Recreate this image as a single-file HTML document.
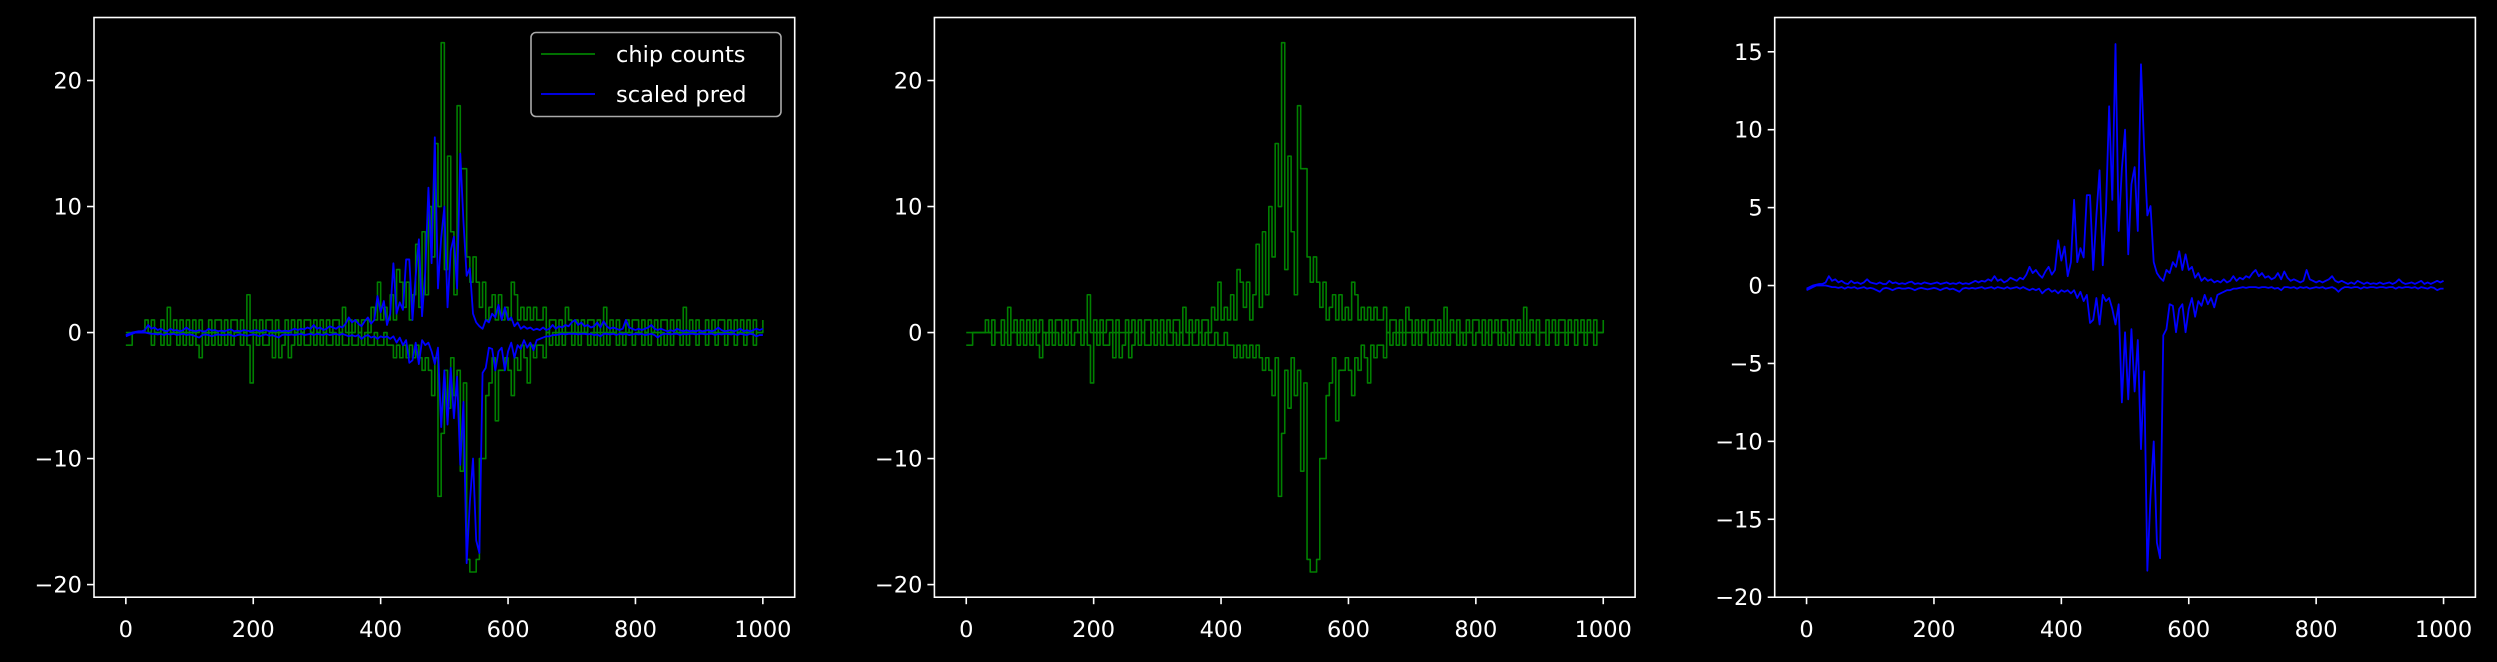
<!DOCTYPE html>
<html><head><meta charset="utf-8"><style>
html,body{margin:0;padding:0;background:#000;}
svg{display:block;font-family:"DejaVu Sans","Liberation Sans",sans-serif;}
</style></head><body>
<svg id="fig" width="2497" height="662" viewBox="0 0 2497 662" xmlns="http://www.w3.org/2000/svg">
<rect x="0" y="0" width="2497" height="662" fill="#000"/>
</svg>
<script>
// x positions (sample index) are 0,5,...,1000
const xStep = 5;
const blueUpper = [-0.2,-0.1,0,0.05,0.1,0.1,0.2,0.6,0.3,0.4,0.2,
0.3,0.15,0.1,0.3,0.15,0.2,0.1,0.2,0.4,0.2,
0.15,0.1,0.2,0.1,0.1,0.3,0.15,0.2,0.1,0.15,
0.1,0.2,0.25,0.1,0.15,0.1,0.2,0.15,0.1,0.15,
0.2,0.1,0.15,0.2,0.1,0.15,0.1,0.2,0.1,0.15,
0.1,0.2,0.3,0.2,0.3,0.25,0.4,0.3,0.6,0.3,
0.4,0.2,0.3,0.5,0.4,0.3,0.5,0.4,0.7,1.2,
0.8,1.0,0.7,0.5,0.9,1.2,0.7,1.0,2.9,1.6,
2.5,0.6,1.5,5.5,1.5,2.4,1.8,5.8,5.8,1.0,
4.5,7.4,1.3,4.8,11.5,5.5,15.5,3.5,7.5,10.0,
2.0,6.5,7.6,3.5,14.2,8.8,4.5,5.1,1.5,0.8,
0.5,0.3,1.0,0.8,1.5,1.2,2.2,1.0,2.0,1.0,
1.2,0.5,0.8,0.3,0.5,0.3,0.4,0.2,0.3,0.2,
0.4,0.2,0.3,0.6,0.3,0.5,0.4,0.6,0.5,0.8,
1.0,0.6,0.8,0.5,0.6,0.4,0.5,0.8,0.4,0.9,
0.5,0.3,0.4,0.3,0.2,0.3,1.0,0.4,0.3,0.2,
0.3,0.2,0.3,0.4,0.6,0.3,0.2,0.3,0.2,0.1,
0.2,0.1,0.3,0.2,0.1,0.2,0.1,0.15,0.1,0.2,
0.1,0.15,0.2,0.1,0.2,0.4,0.2,0.1,0.15,0.2,
0.1,0.2,0.3,0.1,0.2,0.1,0.2,0.3,0.2,0.3];
const blueLower = [-0.3,-0.2,-0.1,0,0,0,0,-0.05,-0.1,-0.1,-0.15,
-0.1,-0.2,-0.1,-0.15,-0.1,-0.2,-0.15,-0.1,-0.2,-0.15,
-0.2,-0.3,-0.4,-0.2,-0.15,-0.2,-0.3,-0.2,-0.15,-0.2,
-0.2,-0.15,-0.2,-0.3,-0.2,-0.15,-0.2,-0.25,-0.2,-0.15,
-0.2,-0.3,-0.2,-0.15,-0.25,-0.2,-0.3,-0.4,-0.2,-0.15,
-0.2,-0.15,-0.2,-0.15,-0.1,-0.2,-0.15,-0.1,-0.2,-0.1,
-0.15,-0.2,-0.1,-0.2,-0.15,-0.1,-0.2,-0.1,-0.2,-0.3,
-0.2,-0.3,-0.2,-0.5,-0.3,-0.2,-0.4,-0.3,-0.5,-0.3,
-0.4,-0.3,-0.5,-0.3,-0.8,-0.4,-1.0,-0.6,-2.4,-2.2,
-0.8,-2.5,-0.6,-1.0,-0.8,-1.5,-2.5,-1.2,-7.5,-3.0,
-7.3,-2.8,-6.8,-3.5,-10.5,-5.5,-18.3,-13.5,-10.0,-16.5,
-17.5,-3.2,-2.8,-1.2,-1.3,-3.0,-1.5,-1.2,-3.0,-1.5,
-0.8,-2.0,-1.0,-1.3,-0.6,-1.2,-0.8,-1.4,-0.6,-0.5,
-0.4,-0.3,-0.3,-0.2,-0.2,-0.15,-0.1,-0.15,-0.1,-0.1,
-0.1,-0.15,-0.1,-0.1,-0.15,-0.1,-0.2,-0.15,-0.3,-0.1,
-0.1,-0.15,-0.1,-0.2,-0.1,-0.15,-0.1,-0.2,-0.15,-0.1,
-0.15,-0.1,-0.2,-0.15,-0.1,-0.2,-0.4,-0.2,-0.1,-0.1,
-0.15,-0.1,-0.1,-0.2,-0.1,-0.15,-0.1,-0.1,-0.15,-0.1,
-0.1,-0.15,-0.1,-0.1,-0.2,-0.1,-0.15,-0.1,-0.1,-0.15,
-0.1,-0.2,-0.1,-0.15,-0.2,-0.1,-0.15,-0.3,-0.2,-0.2];
const greenUpper = [0,0,0,0,0,0,1,0,1,0,0,
1,0,2,0,1,0,1,0,1,0,
1,0,1,0,0,1,0,1,1,0,
1,0,1,1,0,1,0,3,0,1,
0,1,0,1,1,0,1,0,0,1,
0,1,0,1,0,1,1,0,1,0,
1,0,1,0,1,1,0,2,0,1,
0,1,0,1,1,0,2,1,4,1,
2,1,3,1,5,4,2,4,1,3,
7,2,8,3,10,6,15,10,23,5,
14,8,3,18,13,13,6,4,6,4,
2,4,1,2,3,1,3,1,2,1,
4,3,1,2,1,2,1,2,1,1,
2,0,1,1,0,1,0,2,1,0,
1,0,1,0,1,1,0,1,0,2,
0,1,0,1,0,0,1,0,1,1,
0,1,0,1,0,1,0,1,1,0,
1,0,1,0,2,0,1,0,1,0,
0,1,0,1,0,1,1,0,1,0,
1,0,1,0,1,0,1,0,0,1];
const greenLower = [-1,-1,0,0,0,0,0,0,-1,0,0,
-1,0,-1,0,0,-1,0,-1,0,-1,
0,-1,-2,0,-1,0,-1,0,-1,0,
-1,0,-1,0,0,-1,0,-1,-4,0,
-1,0,-1,-1,0,-2,0,-2,-1,0,
-2,-1,0,-1,0,-1,-1,0,-1,0,
-1,0,-1,-1,0,-1,0,-1,-1,0,
-1,-1,0,-1,0,-1,-1,0,-1,-1,
0,-1,-1,-2,-1,-2,-1,-2,-1,-2,
-1,-2,-3,-2,-3,-5,-2,-13,-8,-3,
-6,-2,-5,-3,-11,-4,-18,-19,-19,-18,
-10,-10,-5,-4,-2,-7,-3,-3,-2,-3,
-5,-2,-3,-1,-2,-4,-1,-2,-1,-1,
-2,0,-1,0,-1,0,-1,0,0,-1,
0,-1,0,0,-1,0,-1,0,-1,0,
-1,0,0,-1,0,-1,0,0,-1,0,
0,-1,0,-1,0,0,-1,0,-1,0,
-1,0,0,-1,0,-1,0,0,-1,0,
0,-1,0,0,-1,0,0,-1,0,0,
-1,0,0,-1,0,0,-1,0,0,0];
const xTicks = [0,200,400,600,800,1000];
const yTicksA = [20,10,0,-10,-20];
const yTicksC = [15,10,5,0,-5,-10,-15,-20];

const NS = "http://www.w3.org/2000/svg";
const svg = document.getElementById('fig');
function mk(tag, attrs, parent){
  const e = document.createElementNS(NS, tag);
  for (const k in attrs) e.setAttribute(k, attrs[k]);
  (parent||svg).appendChild(e);
  return e;
}
const TOP = 17.5, BOT = 597.2, W = 700.7;
function makePanel(left, ymin, ymax, yticks, series, name){
  const g = mk('g', {});
  
  
  const xs = v => left + (v + 50) / 1100 * W;
  const ys = v => BOT - (v - ymin) / (ymax - ymin) * (BOT - TOP);
  const clipId = name + '-clip';
  const cp = mk('clipPath', {id: clipId}, g);
  mk('rect', {x: left, y: TOP, width: W, height: BOT - TOP}, cp);
  series.forEach(s => {
    [s.up, s.lo].forEach(arr => {
      let d = '';
      arr.forEach((v, i) => {
        const x = xs(i * xStep).toFixed(2), y = ys(v).toFixed(2);
        if (i === 0) d += 'M' + x + ',' + y;
        else if (s.step) d += 'H' + x + 'V' + y;
        else d += 'L' + x + ',' + y;
      });
      const pl = mk('path', {d: d, fill: 'none', stroke: s.color, 'stroke-width': s.step ? 1.6 : 1.8, 'stroke-linejoin': 'round', 'clip-path': 'url(#' + clipId + ')'}, g);
      
      
    });
  });
  const fr = mk('rect', {x: left, y: TOP, width: W, height: BOT - TOP, fill: 'none', stroke: '#fff', 'stroke-width': 1.6}, g);
  
  
  xTicks.forEach(t => {
    const x = xs(t);
    mk('line', {x1: x, x2: x, y1: BOT, y2: BOT + 7, stroke: '#fff', 'stroke-width': 1.6}, g);
    const tx = mk('text', {x: x, y: 637, fill: '#fff', 'font-size': 22.5, 'text-anchor': 'middle'}, g);
    tx.textContent = String(t);
    
    
  });
  yticks.forEach(t => {
    const y = ys(t);
    mk('line', {x1: left - 7, x2: left, y1: y, y2: y, stroke: '#fff', 'stroke-width': 1.6}, g);
    const tx = mk('text', {x: left - 12, y: y + 8, fill: '#fff', 'font-size': 22.5, 'text-anchor': 'end'}, g);
    tx.textContent = t < 0 ? '\u2212' + Math.abs(t) : String(t);
    
    
  });
  return g;
}
makePanel(94, -21, 25, yTicksA, [
  {up: greenUpper, lo: greenLower, color: '#008000', name: 'chip-counts-line', step: true},
  {up: blueUpper, lo: blueLower, color: '#0000ff', name: 'scaled-pred-line', step: false}], 'panel-combined');
makePanel(934.4, -21, 25, yTicksA, [
  {up: greenUpper, lo: greenLower, color: '#008000', name: 'chip-counts-line', step: true}], 'panel-chip-counts');
makePanel(1774.7, -20, 17.2, yTicksC, [
  {up: blueUpper, lo: blueLower, color: '#0000ff', name: 'scaled-pred-line', step: false}], 'panel-scaled-pred');

// legend
const lg = mk('g', {});


mk('rect', {x: 531, y: 32.5, width: 250, height: 84, rx: 5, fill: '#000', 'fill-opacity': 0.85, stroke: '#aaa', 'stroke-width': 1.6}, lg);
const e1 = mk('g', {}, lg);


mk('line', {x1: 541, x2: 595, y1: 54, y2: 54, stroke: '#008000', 'stroke-width': 1.8}, e1);
const t1 = mk('text', {x: 616, y: 62, fill: '#fff', 'font-size': 22.5}, e1);
t1.textContent = 'chip counts';
const e2 = mk('g', {}, lg);


mk('line', {x1: 541, x2: 595, y1: 94, y2: 94, stroke: '#0000ff', 'stroke-width': 1.8}, e2);
const t2 = mk('text', {x: 616, y: 102, fill: '#fff', 'font-size': 22.5}, e2);
t2.textContent = 'scaled pred';
</script>
</body></html>
